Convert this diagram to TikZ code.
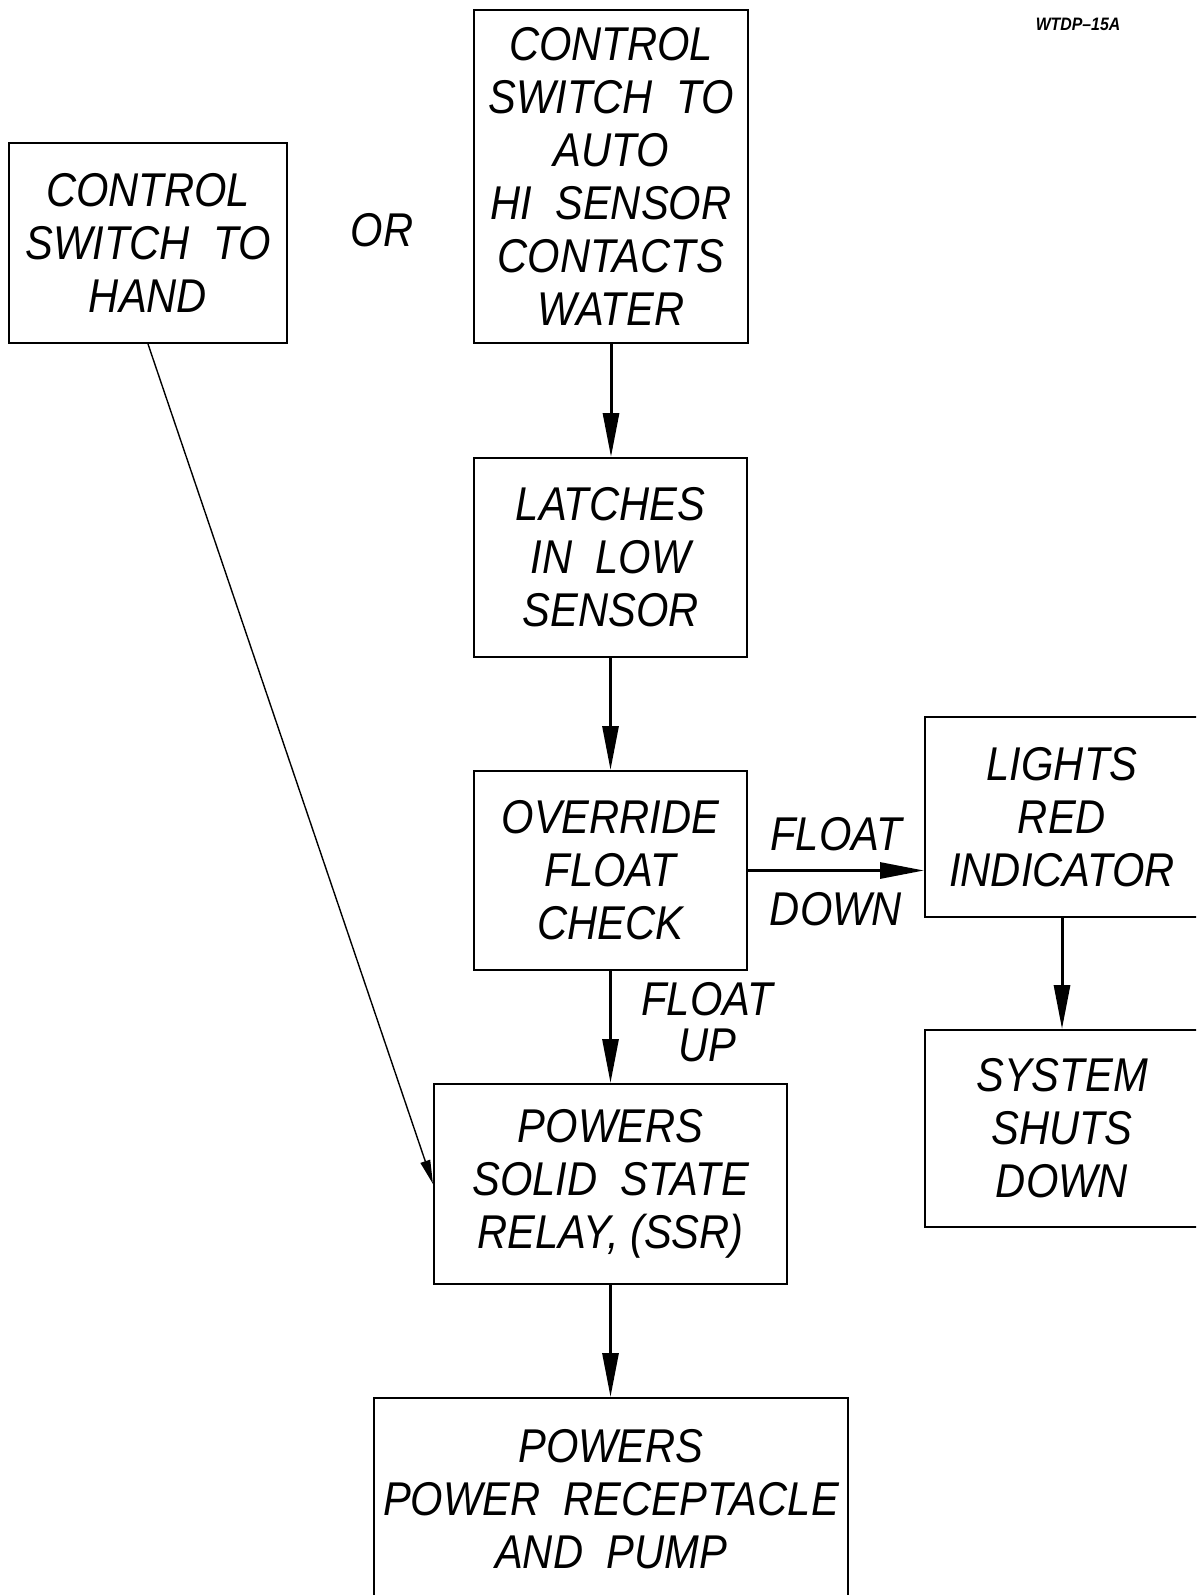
\documentclass[tikz,border=0pt]{standalone}
\usepackage{fontspec}
\setmainfont{Liberation Sans}[FakeStretch=0.88]
\usetikzlibrary{arrows.meta, calc}
\newcommand{\cadtext}{\itshape\fontsize{23.7}{26.5}\selectfont}
\tikzset{
  blk/.style  = {draw, line width=1pt, inner sep=0pt,
                 align=center, font=\cadtext},
  lbl/.style  = {inner sep=0pt, align=center, font=\cadtext},
  arr/.style  = {-{Triangle[length=22pt, width=8pt]}, line width=1.5pt},
  arrt/.style = {-{Triangle[length=12pt, width=5pt]}, line width=0.7pt},
}

\begin{document}
\begin{tikzpicture}[x=0.5pt, y=-0.5pt]
\useasboundingbox (0,0) rectangle (1196,1595);
\clip (0,0) rectangle (1196,1595);

%%──────────────────────────────────────────────────
%% Start conditions
%%──────────────────────────────────────────────────
\node[blk, minimum width=139pt, minimum height=100pt] (hand) at (148,243)
  {CONTROL\\SWITCH\ \ TO\\HAND};

\node[lbl] (orlbl) at (382,230) {OR};

\node[blk, minimum width=137pt, minimum height=166.5pt] (auto) at (611,176.5)
  {CONTROL\\SWITCH\ \ TO\\AUTO\\HI\ \ SENSOR\\CONTACTS\\WATER};

%%──────────────────────────────────────────────────
%% Main column
%%──────────────────────────────────────────────────
\node[blk, minimum width=136.5pt, minimum height=99.5pt] (latch) at (610.5,557.5)
  {LATCHES\\IN\ \ LOW\\SENSOR};

\node[blk, minimum width=136.5pt, minimum height=99.5pt] (override) at (610.5,870.5)
  {OVERRIDE\\FLOAT\\CHECK};

\node[blk, minimum width=176.5pt, minimum height=100pt] (ssr) at (610.5,1184)
  {POWERS\\SOLID\ \ STATE\\RELAY,\ (SSR)};

\node[blk, minimum width=237pt, minimum height=101pt] (pump) at (611,1499)
  {POWERS\\POWER\ \ RECEPTACLE\\AND\ \ PUMP};

%%──────────────────────────────────────────────────
%% Float down branch
%%──────────────────────────────────────────────────
\node[blk, minimum width=137pt, minimum height=100pt] (lights) at (1062,817)
  {LIGHTS\\RED\\INDICATOR};

\node[blk, minimum width=137pt, minimum height=98.5pt] (shut) at (1062,1128.5)
  {SYSTEM\\SHUTS\\DOWN};

%% Connectors
\draw[arr] (auto.south) -- (auto.south |- latch.north);
\draw[arr] (latch.south) -- (latch.south |- override.north);
\draw[arr] (override.south) -- (override.south |- ssr.north);
\draw[arr] (ssr.south) -- (ssr.south |- pump.north);
\draw[arr] (override.east) -- (override.east -| lights.west)
  node[lbl, midway, above=9pt] (fdown) {FLOAT}
  node[lbl, midway, below=10pt] (fdown2) {DOWN};
\draw[arr] (lights.south) -- (lights.south |- shut.north);
\draw[arrt] (hand.south) -- (ssr.west);

\node[lbl, font=\itshape\fontsize{23.7}{23}\selectfont] (fup) at (707,1022)
  {FLOAT\\UP};

%% Drawing number
\node[lbl, font=\bfseries\itshape\fontsize{9}{10}\selectfont] (dwgno) at (1078,24)
  {WTDP--15A};

\end{tikzpicture}
\end{document}
